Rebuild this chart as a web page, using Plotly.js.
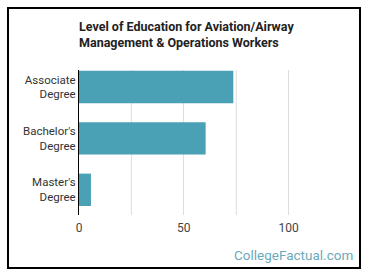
<!DOCTYPE html>
<html><head><meta charset="utf-8">
<script src="https://cdn.plot.ly/plotly-3.0.1.min.js"></script>
<style>html,body{margin:0;padding:0;background:#fff;}#wrap{position:relative;width:370px;height:278px;}
#chart{position:absolute;left:0;top:0;width:370px;height:278px;}
#frame{position:absolute;left:7px;top:7px;width:350px;height:258px;border:2px solid #000;pointer-events:none;}</style>
</head><body><div id="wrap"><div id="chart"></div><div id="frame"></div></div>
<script>
const categories = ["Associate<br>Degree", "Bachelor's<br>Degree", "Master's<br>Degree"];
const values = [73.6, 60.4, 5.7];
const tickValues = [0, 50, 100];

const trace = {
  type: 'bar', orientation: 'h',
  x: values, y: categories,
  marker: {color: '#4aa0b5'},
  hoverinfo: 'none'
};
const layout = {
  width: 370, height: 278,
  margin: {l: 79, r: 31, t: 70, b: 63},
  paper_bgcolor: 'rgba(0,0,0,0)', plot_bgcolor: 'rgba(0,0,0,0)',
  bargap: 0.37,
  showlegend: false,
  font: {family: 'Roboto, sans-serif', color: '#333'},
  title: {
    text: '<b>Level of Education for Aviation/Airway<br>Management & Operations Workers</b>',
    font: {family: 'Roboto, sans-serif', size: 12.5, color: '#222'},
    x: 79/370, xanchor: 'left', xref: 'container',
    y: 1 - 31/278, yanchor: 'top', yref: 'container'
  },
  xaxis: {
    range: [0, 124], tickvals: tickValues, ticktext: tickValues.map(String),
    showgrid: true, gridcolor: '#dddddd', gridwidth: 1,
    zeroline: false, showline: false,
    tickfont: {size: 12, color: '#444'},
    ticks: '', ticklen: 0, ticklabelstandoff: 4
  },
  yaxis: {
    type: 'category', categoryarray: categories,
    range: [2.49, -0.33],
    showline: true, linecolor: '#000', linewidth: 1,
    showgrid: false, zeroline: false,
    tickfont: {size: 11.5, color: '#333'},
    ticks: '', ticklen: 0
  },
  annotations: [{
    text: 'CollegeFactual.com', xref: 'paper', yref: 'paper',
    x: (355-79)/260, y: -(255-215)/145, xanchor: 'right', yanchor: 'middle',
    showarrow: false, font: {family: 'Roboto, sans-serif', size: 13.5, color: '#6aaab9'}
  }]
};
layout.shapes = [25, 75].map(v => ({type:'line', xref:'x', yref:'paper', x0:v, x1:v, y0:0, y1:1, line:{color:'#dddddd', width:1}, layer:'below'}));
Plotly.newPlot('chart', [trace], layout, {staticPlot: true});
</script></body></html>
